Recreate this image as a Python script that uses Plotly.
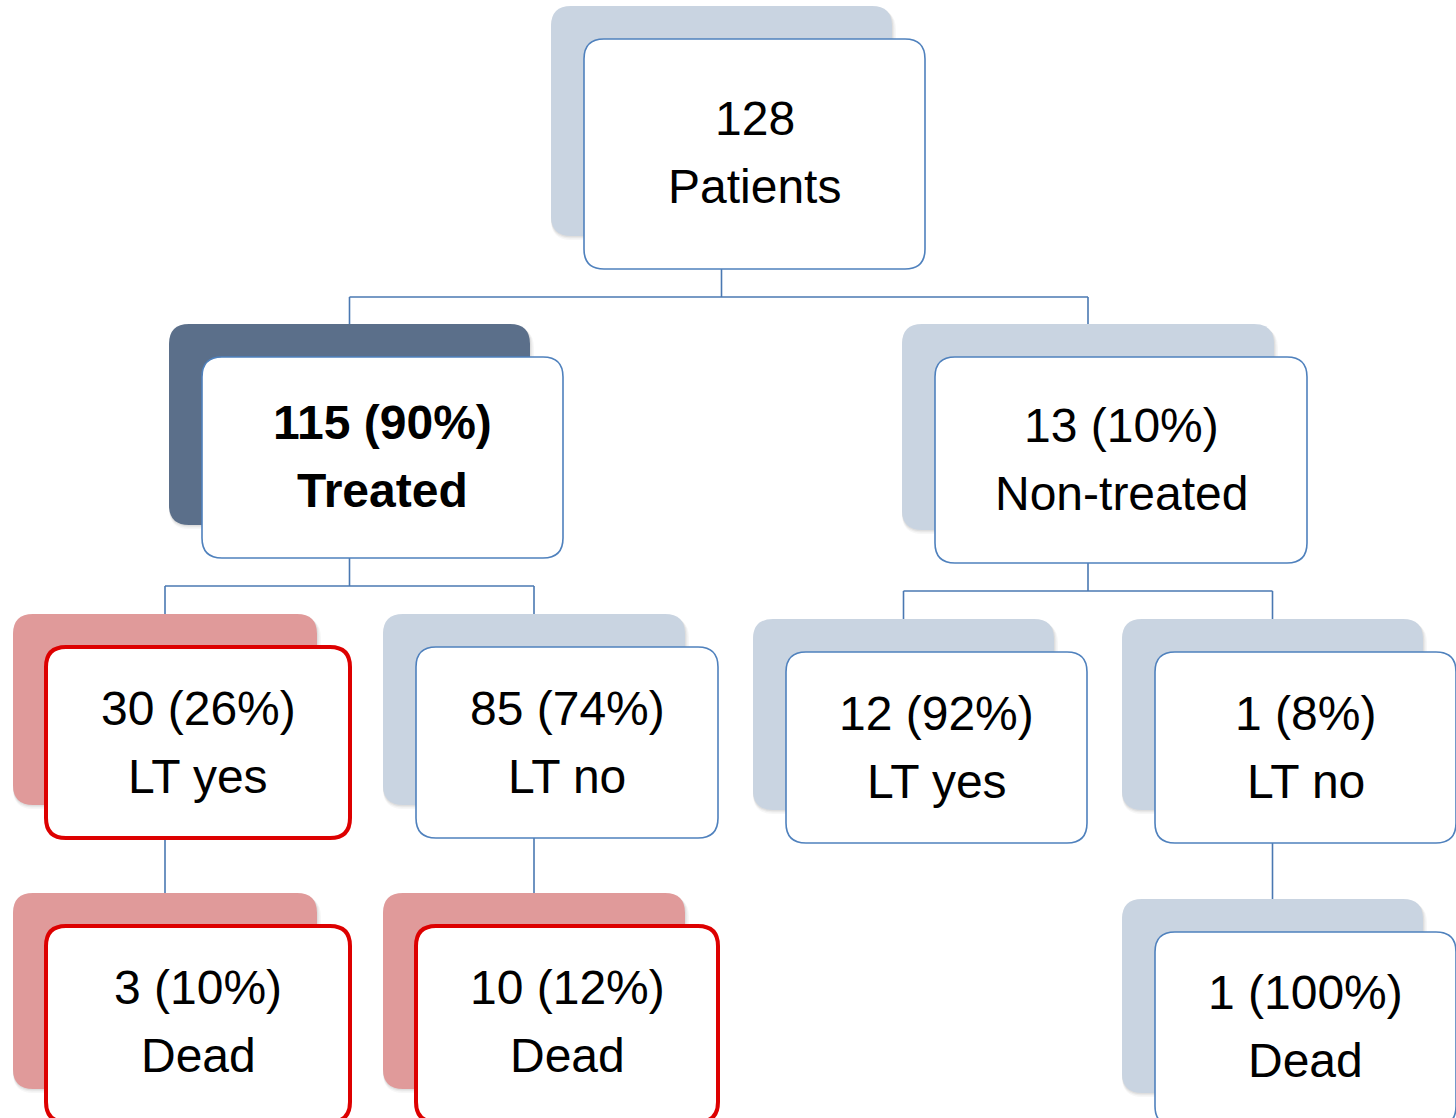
import plotly.graph_objects as go

# Flowchart content
counts = [128, 115, 13, 30, 85, 12, 1, 3, 10, 1]
percents = [None, 90, 10, 26, 74, 92, 8, 10, 12, 100]
groups = ["Patients", "Treated", "Non-treated", "LT yes", "LT no",
          "LT yes", "LT no", "Dead", "Dead", "Dead"]
parents = [None, 0, 0, 1, 1, 2, 2, 3, 4, 6]

# Layout of the front box of each node: (x0, y0, x1, y1) in page pixels
boxes = [
    (584, 39, 925, 269),
    (202, 357, 563, 558),
    (935, 357, 1307, 563),
    (46, 647, 350, 838),
    (416, 647, 718, 838),
    (786, 652, 1087, 843),
    (1155, 652, 1456, 843),
    (46, 926, 350, 1122),
    (416, 926, 718, 1122),
    (1155, 932, 1456, 1126),
]
# vertical centre of the two text lines in each node
text_mid = [152, 456, 459, 742, 742, 747, 747, 1021, 1021, 1026]
# style of each node: "plain", "key" (bold, dark backing) or "alert" (red)
styles = ["plain", "key", "plain", "alert", "plain", "plain", "plain",
          "alert", "alert", "plain"]

BACK_OFFSET = 33
W, H = 1456, 1118

back_fill = {"plain": "#c9d4e1", "key": "#5b6f8a", "alert": "#e09a9a"}
front_line = {"plain": ("#4f81bd", 1.6), "key": ("#4f81bd", 1.6),
              "alert": ("#dd0000", 4)}
CONNECTOR = "#4a78b2"
LINE = dict(color=CONNECTOR, width=1.6)


def rounded(x0, y0, x1, y1, r):
    return (f"M {x0 + r},{y0} L {x1 - r},{y0} Q {x1},{y0} {x1},{y0 + r} "
            f"L {x1},{y1 - r} Q {x1},{y1} {x1 - r},{y1} "
            f"L {x0 + r},{y1} Q {x0},{y1} {x0},{y1 - r} "
            f"L {x0},{y0 + r} Q {x0},{y0} {x0 + r},{y0} Z")


def anchor_x(i):
    # connectors run through the centre of each node's backing card
    x0, _, x1, _ = boxes[i]
    return (x0 + x1) / 2 - BACK_OFFSET


shapes = []

# connectors (drawn first so the cards cover their ends)
children = {}
for i, p in enumerate(parents):
    if p is not None:
        children.setdefault(p, []).append(i)
for p, kids in children.items():
    py1 = boxes[p][3]
    pcx = anchor_x(p)
    kid_x = [anchor_x(k) for k in kids]
    if len(kids) > 1:
        bar_y = py1 + 28
        shapes.append(dict(type="line", x0=pcx, x1=pcx, y0=py1, y1=bar_y, line=LINE))
        shapes.append(dict(type="line", x0=min(kid_x), x1=max(kid_x),
                           y0=bar_y, y1=bar_y, line=LINE))
        for k, kx in zip(kids, kid_x):
            shapes.append(dict(type="line", x0=kx, x1=kx, y0=bar_y,
                               y1=boxes[k][1], line=LINE))
    else:
        k = kids[0]
        shapes.append(dict(type="line", x0=kid_x[0], x1=kid_x[0], y0=py1,
                           y1=boxes[k][1], line=LINE))

# boxes: soft shadow, coloured backing, white front card
for (x0, y0, x1, y1), st in zip(boxes, styles):
    bx0, by0 = x0 - BACK_OFFSET, y0 - BACK_OFFSET
    bx1, by1 = x1 - BACK_OFFSET, y1 - BACK_OFFSET
    for d, op in [(4, 0.04), (2.5, 0.06), (1.2, 0.08)]:
        shapes.append(dict(type="path", path=rounded(bx0, by0 + d, bx1 + d, by1 + d, 20),
                           fillcolor=f"rgba(60,60,60,{op})", line=dict(width=0)))
    shapes.append(dict(type="path", path=rounded(bx0, by0, bx1, by1, 20),
                       fillcolor=back_fill[st], line=dict(width=0)))
    lc, lw = front_line[st]
    shapes.append(dict(type="path", path=rounded(x0, y0, x1, y1, 20),
                       fillcolor="white", line=dict(color=lc, width=lw)))

# node text
annotations = []
for i, (c, pc, g) in enumerate(zip(counts, percents, groups)):
    x0, _, x1, _ = boxes[i]
    cx = (x0 + x1) / 2
    line1 = f"{c}" if pc is None else f"{c} ({pc}%)"
    bold = styles[i] == "key"
    for txt, dy in zip([line1, g], (-34, 34)):
        annotations.append(dict(
            x=cx, y=text_mid[i] + dy, xref="x", yref="y", showarrow=False,
            text=f"<b>{txt}</b>" if bold else txt,
            font=dict(family="Liberation Sans, Arial, sans-serif", size=48, color="black"),
            xanchor="center", yanchor="middle"))

fig = go.Figure()
fig.add_trace(go.Scatter(x=[0, W], y=[0, H], mode="markers",
                         marker=dict(opacity=0), hoverinfo="skip", showlegend=False))
fig.update_layout(
    width=W, height=H, margin=dict(l=0, r=0, t=0, b=0),
    paper_bgcolor="white", plot_bgcolor="white",
    xaxis=dict(range=[0, W], visible=False, fixedrange=True),
    yaxis=dict(range=[H, 0], visible=False, fixedrange=True),
    shapes=shapes, annotations=annotations,
)
fig.write_html("out.html")
